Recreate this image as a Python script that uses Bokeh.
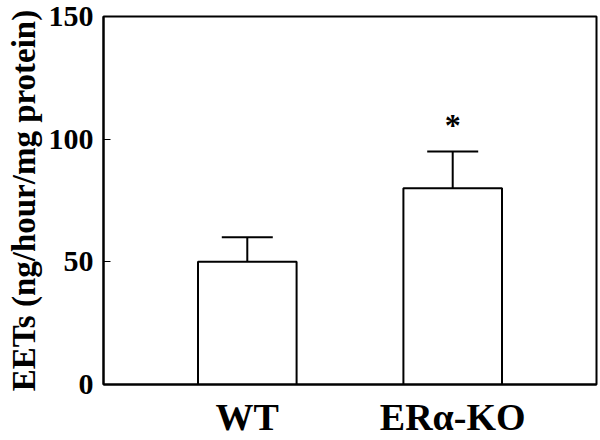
from bokeh.plotting import figure
from bokeh.models import ColumnDataSource, FactorRange, Range1d, FixedTicker, Whisker, TeeHead
from bokeh.core.properties import value
from bokeh.embed import file_html
from bokeh.resources import INLINE

categories = ["WT", "ERα-KO"]
means = [50, 80]
errors = [10, 15]
significance = ["", "*"]
y_ticks = [0, 50, 100, 150]

upper = [m + e for m, e in zip(means, errors)]
src = ColumnDataSource(dict(x=categories, top=means, lower=means, upper=upper, sig=significance))

FONT = "Liberation Serif"

p = figure(width=600, height=440, output_backend="svg", toolbar_location=None,
           x_range=FactorRange(*categories, range_padding=0.2),
           y_range=Range1d(0, 150),
           min_border_left=103, min_border_right=4, min_border_top=16, min_border_bottom=56)

p.vbar(x="x", top="top", width=0.48, source=src, fill_color="white",
       line_color="black", line_width=2)

w = Whisker(base="x", lower="lower", upper="upper", source=src, dimension="height",
            line_color="black", line_width=2, level="overlay",
            upper_head=TeeHead(size=51, line_color="black", line_width=2), lower_head=None)
p.add_layout(w)

p.text(x="x", y="upper", text="sig", source=src, text_font=value(FONT),
       text_font_style="bold", text_font_size="32px", text_align="center",
       text_baseline="alphabetic", y_offset=-26, text_color="black")

p.xgrid.visible = False
p.ygrid.visible = False
p.outline_line_color = "black"
p.outline_line_width = 2
p.outline_line_alpha = 1

# y axis
ya = p.yaxis[0]
ya.ticker = FixedTicker(ticks=y_ticks)
ya.minor_tick_line_color = None
ya.major_tick_in = 7
ya.major_tick_out = 0
ya.major_tick_line_width = 1
ya.axis_line_width = 2
ya.axis_line_color = "black"
ya.major_label_text_font = FONT
ya.major_label_text_font_style = "bold"
ya.major_label_text_font_size = "30px"
ya.major_label_text_color = "black"
ya.major_label_standoff = 10
ya.axis_label = "EETs (ng/hour/mg protein)"
ya.axis_label_text_font = FONT
ya.axis_label_text_font_style = "bold"
ya.axis_label_text_font_size = "33px"
ya.axis_label_text_color = "black"
ya.axis_label_standoff = 4

# x axis
xa = p.xaxis[0]
xa.major_tick_line_color = None
xa.minor_tick_line_color = None
xa.major_tick_in = 0
xa.major_tick_out = 0
xa.axis_line_color = "black"
xa.axis_line_width = 2
xa.major_label_text_font = FONT
xa.major_label_text_font_style = "bold"
xa.major_label_text_font_size = "38px"
xa.major_label_text_color = "black"
xa.major_label_standoff = 11

open("out.html", "w").write(file_html(p, INLINE))
